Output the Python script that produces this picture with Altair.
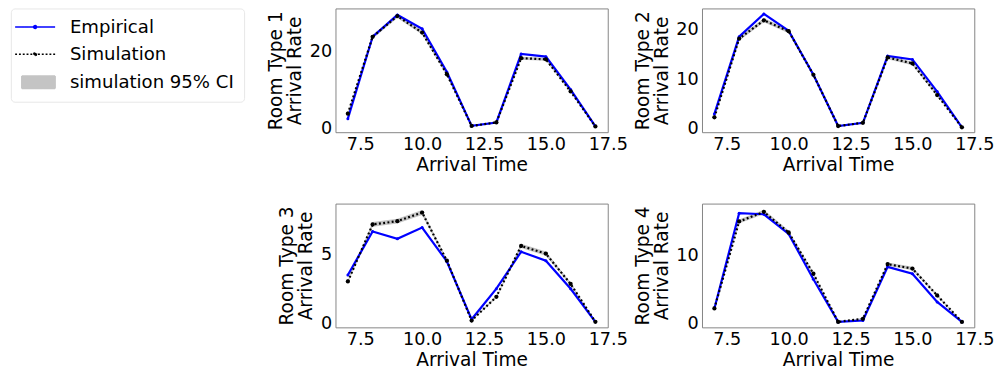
import altair as alt
import pandas as pd

times = [7, 8, 9, 10, 11, 12, 13, 14, 15, 16, 17]

emp1 = [2.3, 23.7, 29.4, 25.8, 14.5, 0.4, 1.3, 19.2, 18.5, 9.9, 0.25]
sim1 = [3.6, 23.7, 29.1, 24.8, 13.9, 0.4, 1.3, 18.1, 17.8, 9.4, 0.25]
ci1 = [0.3, 0.5, 0.5, 0.5, 0.4, 0.1, 0.2, 0.4, 0.4, 0.3, 0.1]

emp2 = [2.9, 18.5, 23.1, 19.7, 10.8, 0.45, 1.1, 14.6, 13.9, 7.4, 0.2]
sim2 = [2.2, 18.1, 21.8, 19.6, 10.8, 0.45, 1.1, 14.3, 13.1, 6.7, 0.2]
ci2 = [0.2, 0.4, 0.4, 0.4, 0.3, 0.1, 0.1, 0.35, 0.35, 0.25, 0.05]

emp3 = [3.47, 6.6, 6.07, 6.88, 4.44, 0.28, 2.48, 5.14, 4.49, 2.48, 0.1]
sim3 = [3.0, 7.1, 7.34, 7.96, 4.5, 0.19, 1.9, 5.56, 5.0, 2.82, 0.1]
ci3 = [0.1, 0.17, 0.17, 0.18, 0.12, 0.04, 0.08, 0.15, 0.15, 0.1, 0.03]

emp4 = [2.15, 16.0, 15.85, 13.0, 6.4, 0.2, 0.4, 8.2, 7.2, 3.1, 0.2]
sim4 = [2.15, 14.8, 16.2, 13.2, 7.2, 0.2, 0.65, 8.6, 7.95, 4.05, 0.2]
ci4 = [0.1, 0.3, 0.3, 0.3, 0.2, 0.05, 0.1, 0.25, 0.25, 0.15, 0.05]

ydomains = [[-1.25, 31.1], [-0.8, 24.2], [-0.3, 8.6], [-0.6, 17.4]]
yticks = [[0, 20], [0, 10, 20], [0, 5], [0, 10]]
xticks = [7.5, 10.0, 12.5, 15.0, 17.5]

SERIES = ["Empirical", "Simulation", "simulation 95% CI"]
COLORS = ["#0000ff", "#000000", "#c4c4c4"]

FONT = "DejaVu Sans"

shape_expr = (
    "datum.value === 'simulation 95% CI' ? 'M-2.8,-1.3H4.2V1.3H-2.8Z' : "
    "'M-4.2,0H4.2M0.3,0A0.3,0.3,0,1,1,-0.3,0A0.3,0.3,0,1,1,0.3,0'"
)
dash_expr = "datum.value === 'Simulation' ? [2, 2] : [1, 0]"

legend = alt.Legend(
    title=None,
    orient="left",
    offset=22,
    symbolType=alt.ExprRef(shape_expr),
    symbolDash=alt.ExprRef(dash_expr),
    symbolSize=100,
    symbolStrokeWidth=1.6,
    symbolOpacity=1,
    symbolOffset=6,
    labelOffset=27,
    rowPadding=8.5,
    padding=10,
    strokeColor="#e6e6e6",
    cornerRadius=4,
    fillColor="white",
    labelFont=FONT,
    labelFontSize=19,
    labelColor="#000000",
    labelLimit=400,
)

color_scale = alt.Scale(domain=SERIES, range=COLORS)


def panel(idx, emp, sim, ci, ydom, yt):
    df = pd.DataFrame({
        "time": times,
        "emp": emp,
        "sim": sim,
        "lo": [s - c for s, c in zip(sim, ci)],
        "hi": [s + c for s, c in zip(sim, ci)],
    })
    base = alt.Chart(df)
    xenc = alt.X(
        "time:Q",
        scale=alt.Scale(domain=[6.5, 17.5], nice=False, zero=False),
        axis=alt.Axis(values=xticks, format=".1f", title="Arrival Time", labelFlush=False),
    )
    yscale = alt.Scale(domain=ydom, nice=False, zero=False)
    yaxis = alt.Axis(values=yt, format="d", title=[f"Room Type {idx}", "Arrival Rate"])
    band = base.transform_calculate(series="'simulation 95% CI'").mark_area().encode(
        x=xenc,
        y=alt.Y("lo:Q", scale=yscale, axis=yaxis),
        y2="hi:Q",
        color=alt.Color("series:N", scale=color_scale, legend=legend),
    )
    emp_line = base.transform_calculate(series="'Empirical'").mark_line(
        strokeWidth=2.3, point=alt.OverlayMarkDef(size=10, filled=True)
    ).encode(
        x=xenc,
        y=alt.Y("emp:Q", scale=yscale, axis=yaxis),
        color=alt.Color("series:N", scale=color_scale, legend=legend),
    )
    sim_line = base.transform_calculate(series="'Simulation'").mark_line(
        strokeWidth=2.3, strokeDash=[2, 2.5], point=alt.OverlayMarkDef(size=20, filled=True)
    ).encode(
        x=xenc,
        y=alt.Y("sim:Q", scale=yscale, axis=yaxis),
        color=alt.Color("series:N", scale=color_scale, legend=legend),
    )
    return alt.layer(band, emp_line, sim_line).properties(width=286, height=130)


p1 = panel(1, emp1, sim1, ci1, ydomains[0], yticks[0])
p2 = panel(2, emp2, sim2, ci2, ydomains[1], yticks[1])
p3 = panel(3, emp3, sim3, ci3, ydomains[2], yticks[2])
p4 = panel(4, emp4, sim4, ci4, ydomains[3], yticks[3])

chart = alt.vconcat(
    alt.hconcat(p1, p2, spacing=3),
    alt.hconcat(p3, p4, spacing=3),
    spacing=29,
).properties(
    padding={"left": 2, "top": -10, "right": 5, "bottom": 5}
).configure_view(
    stroke="#808080", strokeWidth=1
).configure_axis(
    labelFont=FONT, titleFont=FONT, labelFontSize=18.5, titleFontSize=19.5,
    titleFontWeight="normal", grid=False, domain=False, ticks=False,
    labelColor="#000000", titleColor="#000000", labelPadding=4,
).configure_axisY(
    titlePadding=5, titleLineHeight=20
).configure_axisX(
    titlePadding=4, labelPadding=3
)

chart.save("out.html", embed_options={"renderer": "svg", "actions": False})
